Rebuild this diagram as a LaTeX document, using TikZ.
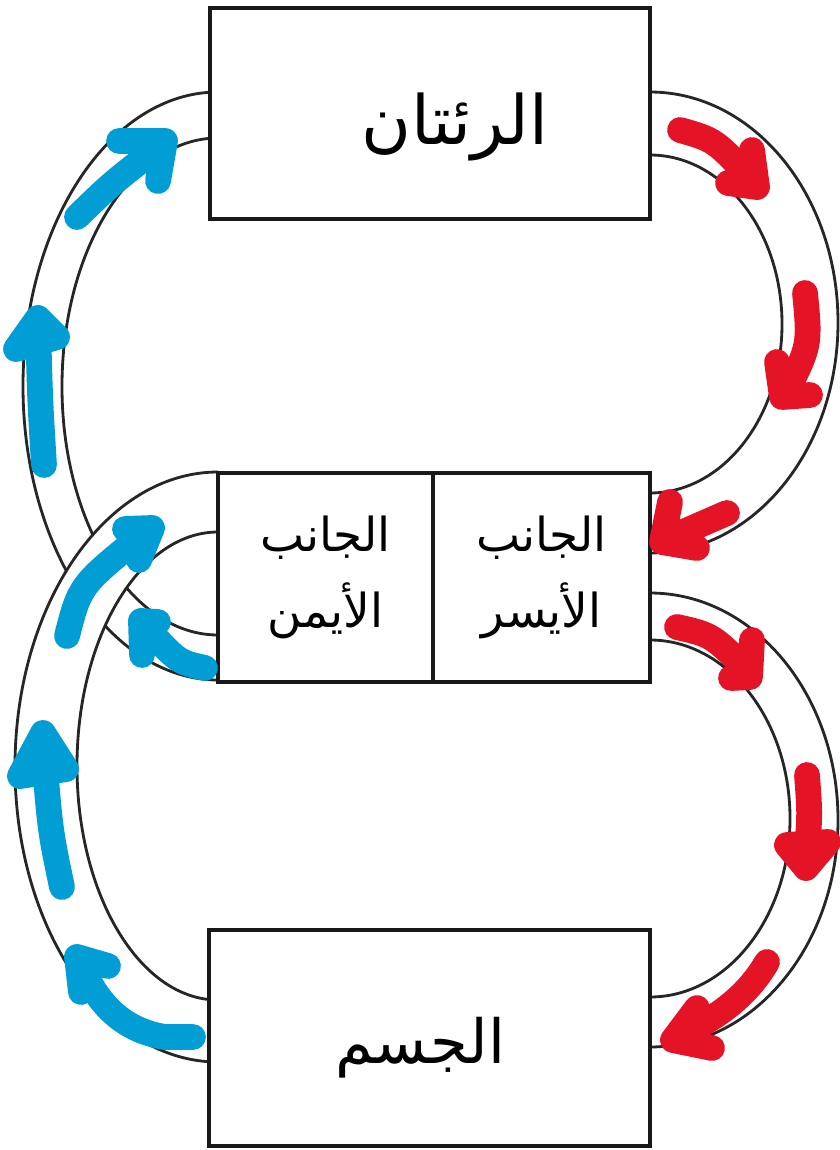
\documentclass[tikz,border=0pt]{standalone}
\usepackage{fontspec}
\usetikzlibrary{positioning, backgrounds}
\newfontfamily\arabicfont[Script=Arabic]{DejaVu Sans}
\TeXXeTstate=1
\definecolor{flowblue}{RGB}{0,158,212}
\definecolor{flowred}{RGB}{228,19,38}

\begin{document}
\begin{tikzpicture}[x=0.03cm, y=-0.03cm,
    organ/.style={draw=black!90, line width=3.2pt, fill=white, inner sep=0pt, outer sep=0pt},
    organtext/.style={font=\arabicfont\fontsize{58}{70}\selectfont, inner sep=0pt},
    sidetext/.style={font=\arabicfont\fontsize{40}{65}\selectfont, align=center},
    tube/.style={draw=black!85, line width=2.4pt},
    flow/.style={line width=22pt, line cap=round, line join=round},
    blueflow/.style={flow, draw=flowblue},
    redflow/.style={flow, draw=flowred}]
    \useasboundingbox (0,0) rectangle (839,1150);

    % Lungs
    \node[organ, minimum width=13.2cm, minimum height=6.33cm] (lungs) at (430,113.5) {};
    \node[organtext] (lungstext) at (455,127) {\beginR الرئتان\endR};

    % Heart, two halves
    \node[organ, minimum width=6.45cm, minimum height=6.27cm] (rightside) at (325.5,577.5)
        [sidetext] {\beginR الجانب\endR\\\beginR الأيمن\endR};
    \node[organ, minimum width=6.51cm, minimum height=6.27cm, right=0pt of rightside]
        (leftside) [sidetext] {\beginR الجانب\endR\\\beginR الأيسر\endR};

    % Body
    \node[organ, minimum width=13.23cm, minimum height=6.48cm] (body) at (429.5,1038) {};
    \node[organtext, font=\arabicfont\fontsize{52}{64}\selectfont] (bodytext) at (420,1048) {\beginR الجسم\endR};

    % Vessels behind the boxes
    \begin{scope}[on background layer]
        % heart -> lungs
        \draw[tube] (rightside.west |- 0,92) arc[start angle=-90, end angle=-270, x radius=195, y radius=294];
        \draw[tube] (rightside.west |- 0,138) arc[start angle=-90, end angle=-270, x radius=156, y radius=248.5];
        % body -> heart, passes over the other one
        \fill[white] (rightside.west |- 0,472) arc[start angle=-90, end angle=-270, x radius=203, y radius=295]
            -- (rightside.west |- 0,1000) arc[start angle=90, end angle=270, x radius=141, y radius=234] -- cycle;
        \draw[tube] (rightside.west |- 0,472) arc[start angle=-90, end angle=-270, x radius=203, y radius=295];
        \draw[tube] (rightside.west |- 0,532) arc[start angle=-90, end angle=-270, x radius=141, y radius=234];
        % lungs -> heart
        \draw[tube] (lungs.east |- 0,92) arc[start angle=-90, end angle=90, x radius=188, y radius=230.5];
        \draw[tube] (lungs.east |- 0,155) arc[start angle=-90, end angle=90, x radius=132, y radius=169];
        % heart -> body
        \draw[tube] (leftside.east |- 0,593) arc[start angle=-90, end angle=90, x radius=188, y radius=227];
        \draw[tube] (leftside.east |- 0,640) arc[start angle=-90, end angle=90, x radius=140, y radius=178.5];
    \end{scope}

    % Blue arrows
    \draw[blueflow] (77,217) .. controls (112,183) .. (160,146) (119,141) -- (165,141) -- (158,181);
    \draw[blueflow] (44,465) .. controls (40,400) .. (38,322) (16,349) -- (38,318) -- (57,337) -- cycle;
    \draw[blueflow] (67,636) .. controls (80,585) .. (145,533) (125,529) -- (152,528) -- (139,560);
    \draw[blueflow] (205,668) .. controls (178,662) .. (146,627) (158,622) -- (141,621) -- (142,655);
    \draw[blueflow] (62,887) .. controls (50,830) .. (43,740) (20,776) -- (43,733) -- (66,769) -- cycle;
    \draw[blueflow] (193,1037) -- (165,1037) .. controls (120,1030) and (95,1000) .. (80,962)
        (108,966) -- (77,957) -- (81,992);

    % Red arrows
    \draw[redflow] (680,130) .. controls (715,140) .. (752,180) (752,150) -- (757,187) -- (728,183);
    \draw[redflow] (805,293) .. controls (810,345) .. (786,393) (777,362) -- (782,397) -- (810,395);
    \draw[redflow] (727,513) -- (665,540) (670,502) -- (662,542) -- (697,548);
    \draw[redflow] (677,627) .. controls (712,635) .. (747,670) (752,640) -- (750,677) -- (731,678);
    \draw[redflow] (807,775) .. controls (810,815) .. (806,862) (787,845) -- (806,868) -- (828,842) -- cycle;
    \draw[redflow] (767,962) .. controls (745,1000) and (712,1020) .. (676,1038)
        (697,1008) -- (673,1040) -- (712,1048);
\end{tikzpicture}
\end{document}
